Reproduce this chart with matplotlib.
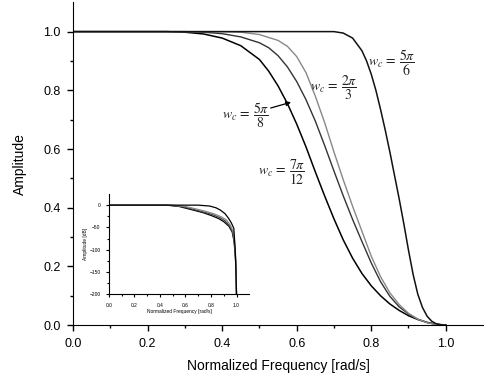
import numpy as np
import matplotlib.pyplot as plt

# main plot curves, normalized frequency vs amplitude
x_a = [0, 0.25, 0.30, 0.35, 0.40, 0.45, 0.50, 0.525, 0.55, 0.575, 0.60, 0.625, 0.65, 0.675, 0.70,
       0.725, 0.75, 0.775, 0.80, 0.825, 0.85, 0.875, 0.90, 0.925, 0.95, 0.975, 1.0]
y_a = [1, 1, 0.998, 0.992, 0.978, 0.952, 0.905, 0.865, 0.815, 0.755, 0.685, 0.607, 0.522, 0.44, 0.362,
       0.29, 0.228, 0.176, 0.134, 0.10, 0.072, 0.05, 0.032, 0.019, 0.009, 0.003, 0]
x_b = [0, 0.30, 0.35, 0.40, 0.45, 0.50, 0.525, 0.55, 0.575, 0.60, 0.625, 0.65, 0.675, 0.70, 0.725,
       0.75, 0.775, 0.80, 0.825, 0.85, 0.875, 0.90, 0.925, 0.95, 0.975, 1.0]
y_b = [1, 1, 0.998, 0.993, 0.982, 0.962, 0.945, 0.918, 0.88, 0.83, 0.768, 0.695, 0.612, 0.525, 0.44,
       0.36, 0.285, 0.212, 0.148, 0.098, 0.062, 0.038, 0.02, 0.009, 0.002, 0]
x_c = [0, 0.40, 0.45, 0.50, 0.55, 0.575, 0.60, 0.625, 0.65, 0.675, 0.70, 0.725, 0.75, 0.775, 0.80,
       0.825, 0.85, 0.875, 0.90, 0.925, 0.95, 0.975, 1.0]
y_c = [1, 1, 0.998, 0.99, 0.97, 0.95, 0.915, 0.86, 0.78, 0.69, 0.59, 0.495, 0.405, 0.32, 0.235,
       0.165, 0.11, 0.07, 0.04, 0.02, 0.008, 0.002, 0]
x_d = [0, 0.70, 0.725, 0.75, 0.775, 0.7875, 0.80, 0.8125, 0.825, 0.8375, 0.85, 0.8625, 0.875,
       0.8875, 0.90, 0.9125, 0.925, 0.9375, 0.95, 0.9625, 0.975, 0.9875, 1.0]
y_d = [1, 1, 0.995, 0.978, 0.935, 0.90, 0.855, 0.80, 0.735, 0.665, 0.59, 0.51, 0.43,
       0.345, 0.255, 0.172, 0.105, 0.06, 0.03, 0.013, 0.004, 0.001, 0]

# inset curves in dB
xi_a = [0, 0.45, 0.55, 0.66, 0.74, 0.80, 0.86, 0.90, 0.94, 0.966, 0.98, 0.99, 0.997, 1.0]
yi_a = [0, 0, -3, -11, -17, -23, -30, -37, -47, -60, -80, -110, -150, -200]
xi_b = [0, 0.47, 0.57, 0.67, 0.75, 0.81, 0.87, 0.91, 0.945, 0.97, 0.982, 0.991, 0.997, 1.0]
yi_b = [0, 0, -3, -10, -16, -21, -28, -35, -46, -60, -80, -110, -150, -200]
xi_c = [0, 0.50, 0.60, 0.69, 0.76, 0.82, 0.88, 0.92, 0.95, 0.972, 0.984, 0.992, 0.997, 1.0]
yi_c = [0, 0, -3, -9, -14, -19, -26, -33, -44, -58, -80, -110, -150, -200]
xi_d = [0, 0.70, 0.79, 0.84, 0.873, 0.91, 0.939, 0.96, 0.979, 0.99, 0.996, 1.0]
yi_d = [0, 0, -2, -6, -11, -19, -30, -40, -52, -100, -150, -200]

plt.rcParams['font.family'] = ['Liberation Sans', 'DejaVu Sans']
plt.rcParams['mathtext.fontset'] = 'stix'

fig = plt.figure(figsize=(4.84, 3.78), dpi=100)
ax = fig.add_axes([0.151, 0.140, 0.847, 0.854])

ax.plot(x_a, y_a, color='black', lw=1.1)
ax.plot(x_b, y_b, color='#333333', lw=1.0)
ax.plot(x_c, y_c, color='#888888', lw=1.0)
ax.plot(x_d, y_d, color='#111111', lw=1.1)

ax.set_xlim(0, 1.1)
ax.set_ylim(0, 1.1)
ax.set_xticks(np.arange(0, 1.01, 0.2))
ax.set_xticks(np.arange(0.1, 1.1, 0.2), minor=True)
ax.set_yticks(np.arange(0, 1.01, 0.2))
ax.set_yticks(np.arange(0.1, 1.1, 0.2), minor=True)
ax.tick_params(which='major', direction='out', length=4, width=1, labelsize=9, pad=5)
ax.tick_params(which='minor', direction='out', length=2.5, width=1)
for s in ['top', 'right']:
    ax.spines[s].set_visible(False)
ax.set_xlabel('Normalized Frequency [rad/s]', fontsize=10, labelpad=7)
ax.set_ylabel('Amplitude', fontsize=10, labelpad=12)

lab = dict(fontsize=10, va='center', ha='left', color='#222222')
ax.text(0.79, 0.895, r'$w_c\,=\,\dfrac{5\pi}{6}$', **lab)
ax.text(0.635, 0.807, r'$w_c\,=\,\dfrac{2\pi}{3}$', **lab)
ax.text(0.399, 0.715, r'$w_c\,=\,\dfrac{5\pi}{8}$', **lab)
ax.text(0.496, 0.521, r'$w_c\,=\,\dfrac{7\pi}{12}$', **lab)
ax.annotate('', xy=(0.592, 0.762), xytext=(0.523, 0.737),
            arrowprops=dict(arrowstyle='-|>', color='black', lw=0.9, mutation_scale=7))

# inset in dB
ins = fig.add_axes([0.225, 0.221, 0.290, 0.267])
ins.plot(xi_a, yi_a, color='black', lw=0.9)
ins.plot(xi_b, yi_b, color='#444444', lw=0.9)
ins.plot(xi_c, yi_c, color='#888888', lw=0.9)
ins.plot(xi_d, yi_d, color='black', lw=0.9)
ins.set_xlim(0, 1.1)
ins.set_ylim(-200, 26)
ins.set_xticks(np.arange(0, 1.01, 0.2))
ins.set_xticks(np.arange(0.1, 1.1, 0.2), minor=True)
ins.set_yticks([-200, -150, -100, -50, 0])
ins.set_yticks([-175, -125, -75, -25], minor=True)
ins.tick_params(which='major', direction='out', length=2.5, width=0.8, labelsize=3.5)
ins.tick_params(which='minor', direction='out', length=1.5, width=0.8)
for s in ['top', 'right']:
    ins.spines[s].set_visible(False)
ins.set_xlabel('Normalized Frequency [rad/s]', fontsize=3.5, labelpad=1)
ins.set_ylabel('Amplitude [dB]', fontsize=3.5, labelpad=1)

fig.savefig('out.png', dpi=100)
